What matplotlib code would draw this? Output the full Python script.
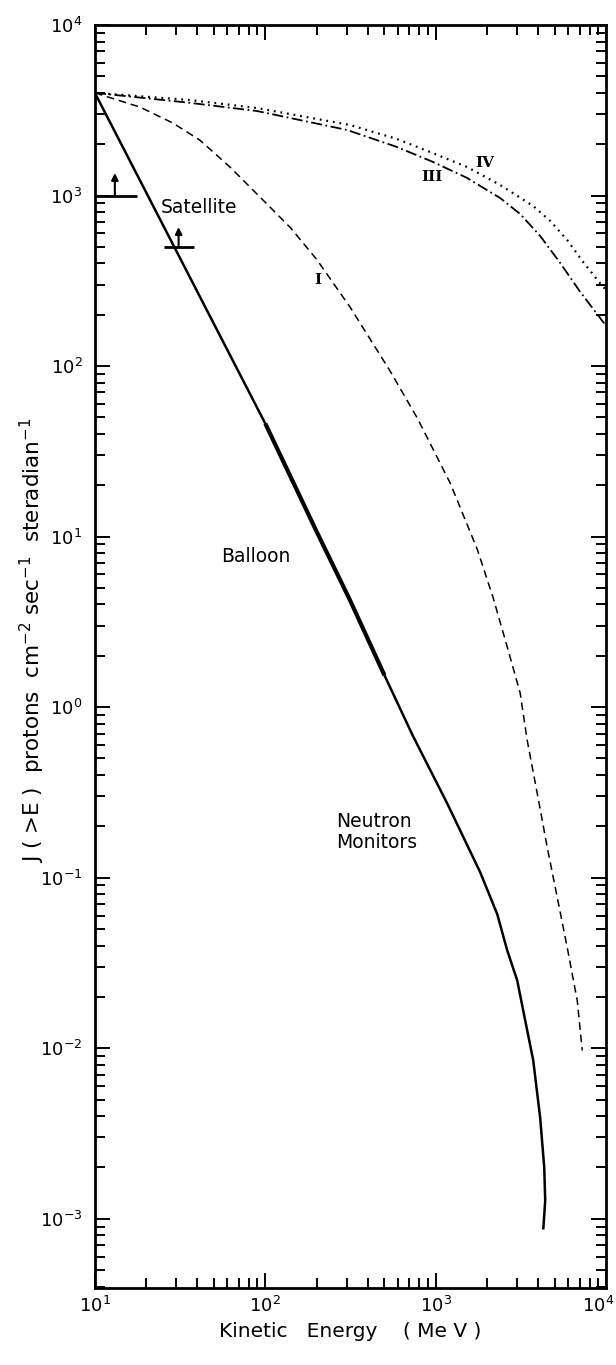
import matplotlib
matplotlib.use("Agg")
import matplotlib.pyplot as plt
from matplotlib.ticker import LogLocator, NullFormatter
from matplotlib.transforms import ScaledTranslation

# solid curve: satellite / balloon / neutron monitor integral spectrum
solid_E = [10, 30, 100, 201, 314, 500, 736, 1167, 1824, 2296, 2625, 3007,
           3259, 3733, 4102, 4332, 4390, 4280]
solid_J = [4000, 475, 46, 10.6, 4.24, 1.54, 0.676, 0.273, 0.1076, 0.0611,
           0.0376, 0.025, 0.0167, 0.0085, 0.0039, 0.0020, 0.00128, 0.00088]

# balloon range drawn heavier
balloon_lo, balloon_hi = 100, 500

# curve I (dashed)
curve1_E = [10, 18.4, 28.7, 41.4, 62, 97, 140, 201, 314, 540, 780, 1216, 1750,
            2170, 2630, 3130, 3440, 3940, 4510, 5160, 5910, 6770, 7240]
curve1_J = [4000, 3300, 2660, 2110, 1470, 940, 650, 420, 222, 93.5, 49.5, 20.6,
            8.46, 4.4, 2.25, 1.21, 0.64, 0.313, 0.151, 0.077, 0.039, 0.019, 0.0097]

# curve III (dash-dot)
curve3_E = [10, 36.1, 89.3, 302, 593, 966, 1530, 2390, 3131, 4102, 5378,
            7047, 9230, 10000]
curve3_J = [4000, 3495, 3130, 2423, 1925, 1572, 1267, 966, 779, 579, 402,
            272, 191, 172]

# curve IV (dotted)
curve4_E = [10, 36.1, 89.3, 314, 593, 927, 1530, 2390, 3733, 4700, 5910,
            7340, 8990, 10000]
curve4_J = [4000, 3631, 3259, 2592, 2145, 1799, 1469, 1152, 868, 709, 548,
            407, 315, 279]

# satellite lower limits (bar + upward arrow)
sat_E_lo = [10, 25.4]
sat_E_hi = [17.7, 38]
sat_J = [1000, 500]
sat_arrow_E = [13.1, 31]
sat_arrow_top = [1355, 653]

plt.rcParams['font.family'] = ['DejaVu Sans']
plt.rcParams['lines.scale_dashes'] = False

fig = plt.figure(figsize=(6.16, 13.65), dpi=100)
ax = fig.add_axes([0.154, 0.0564, 0.83, 0.9253])

ax.set_xscale('log')
ax.set_yscale('log')
ax.set_xlim(10, 1e4)
ax.set_ylim(10 ** -3.406, 1e4)

ax.plot(solid_E, solid_J, color='k', lw=1.8, solid_joinstyle='round')
bal_E = [e for e in solid_E if balloon_lo <= e <= balloon_hi]
bal_J = [j for e, j in zip(solid_E, solid_J) if balloon_lo <= e <= balloon_hi]
ax.plot(bal_E, bal_J, color='k', lw=3.0, solid_capstyle='butt')

ax.plot(curve1_E, curve1_J, color='k', lw=1.1, linestyle=(0, (5.5, 3.5)))
ax.plot(curve3_E, curve3_J, color='k', lw=1.3,
        linestyle=(0, (8, 2.5, 1.3, 2.5)))
ax.plot(curve4_E, curve4_J, color='k', lw=1.6, linestyle=(0, (1.3, 3.5)))

for lo, hi, j, xa, top in zip(sat_E_lo, sat_E_hi, sat_J, sat_arrow_E, sat_arrow_top):
    ax.plot([lo, hi], [j, j], color='k', lw=2.0, solid_capstyle='butt')
    ax.annotate('', xy=(xa, top), xytext=(xa, j),
                arrowprops=dict(arrowstyle='-|>', color='k', lw=1.5,
                                mutation_scale=10, shrinkA=0, shrinkB=0))

ax.text(41, 845, 'Satellite', fontsize=13.5, ha='center', va='center')
ax.text(88, 7.6, 'Balloon', fontsize=13.5, ha='center', va='center')
ax.text(260, 0.185, 'Neutron\nMonitors', fontsize=13.5, ha='left', va='center',
        linespacing=1.1)

roman = dict(fontsize=11, family='DejaVu Serif', weight='bold',
             ha='center', va='center')
ax.text(204, 319, 'I', **roman)
ax.text(952, 1285, 'III', **roman)
ax.text(1950, 1552, 'IV', **roman)

ax.xaxis.set_major_locator(LogLocator(base=10, numticks=10))
ax.xaxis.set_minor_locator(LogLocator(base=10, subs=range(2, 10), numticks=50))
ax.yaxis.set_major_locator(LogLocator(base=10, numticks=20))
ax.yaxis.set_minor_locator(LogLocator(base=10, subs=range(2, 10), numticks=100))
ax.xaxis.set_minor_formatter(NullFormatter())
ax.yaxis.set_minor_formatter(NullFormatter())

ax.tick_params(which='both', direction='in', top=True, right=True,
               width=1.4, labelsize=13)
ax.tick_params(which='major', length=11)
ax.tick_params(which='minor', length=7)
ax.tick_params(axis='y', which='major', pad=9)
ax.tick_params(axis='x', which='major', pad=6)
for s in ax.spines.values():
    s.set_linewidth(2.0)

ax.set_xlabel('Kinetic   Energy    ( Me V )', fontsize=14.5, labelpad=4)
fig.text(0.052, 0.531,
         r'J ( >E )  protons  cm$^{-2}$ sec$^{-1}$  steradian$^{-1}$',
         rotation=90, fontsize=15.5, ha='center', va='center')

# nudge the 10^4 label left so it stays inside the figure like the original
fig.canvas.draw()
shift = ScaledTranslation(-8 / 100, 0, fig.dpi_scale_trans)
for tick in ax.xaxis.get_major_ticks():
    if abs(tick.get_loc() - 1e4) < 1:
        tick.label1.set_transform(tick.label1.get_transform() + shift)

fig.savefig('out.png', dpi=100)
